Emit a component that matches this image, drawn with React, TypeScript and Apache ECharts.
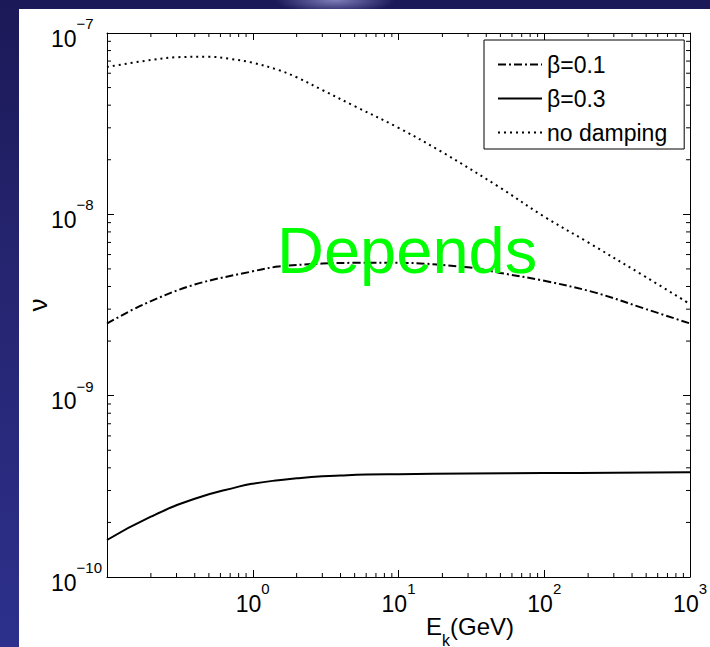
import React, { useEffect, useRef } from "react";
import * as echarts from "echarts";

// beta = 0.1 (dash-dot)
const energyBeta01 = [0.1, 0.18, 0.4, 1, 1.5, 3, 5, 10, 30, 50, 100, 224, 500, 1000];
const nuBeta01 = [2.5e-9, 3.2e-9, 4.1e-9, 4.85e-9, 5.15e-9, 5.35e-9, 5.4e-9, 5.4e-9, 5.1e-9, 4.75e-9, 4.3e-9, 3.7e-9, 3.0e-9, 2.5e-9];

// beta = 0.3 (solid)
const energyBeta03 = [0.1, 0.2, 0.4, 0.8, 1, 1.5, 2, 3, 4, 6, 10, 30, 100, 300, 1000];
const nuBeta03 = [1.6e-10, 2.15e-10, 2.7e-10, 3.15e-10, 3.27e-10, 3.42e-10, 3.5e-10, 3.59e-10, 3.63e-10, 3.67e-10, 3.69e-10, 3.72e-10, 3.74e-10, 3.76e-10, 3.78e-10];

// no damping (dotted)
const energyNoDamp = [0.1, 0.2, 0.3, 0.5, 0.7, 1, 1.5, 2, 3, 5, 10, 20, 50, 100, 200, 500, 1000];
const nuNoDamp = [6.5e-8, 7.1e-8, 7.35e-8, 7.4e-8, 7.2e-8, 6.85e-8, 6.25e-8, 5.7e-8, 4.85e-8, 3.95e-8, 3.0e-8, 2.2e-8, 1.4e-8, 9.7e-9, 7.0e-9, 4.5e-9, 3.2e-9];

const seriesNames = ["β=0.1", "β=0.3", "no damping"];

const xMin = 0.1;
const xMax = 1000;
const yMin = 1e-10;
const yMax = 1e-7;
const xDecades = [0.1, 1, 10, 100];
const yDecades = [1e-10, 1e-9, 1e-8];
const minorMultipliers = [2, 3, 4, 5, 6, 7, 8, 9];

const FONT = "'Liberation Sans', Arial, Helvetica, sans-serif";

function zip(xs: number[], ys: number[]) {
  return xs.map((x, i) => [x, ys[i]]);
}

export default function App() {
  const ref = useRef<HTMLDivElement>(null);

  useEffect(() => {
    if (!ref.current) return;
    const chart = echarts.init(ref.current, null, { renderer: "svg" });

    const xMinor: number[] = [];
    xDecades.forEach((d) => minorMultipliers.forEach((m) => xMinor.push(d * m)));
    const yMinor: number[] = [];
    yDecades.forEach((d) => minorMultipliers.forEach((m) => yMinor.push(d * m)));

    const richTick = {
      b: { fontSize: 23, lineHeight: 34, verticalAlign: "bottom", color: "#000", fontFamily: FONT },
      s: { fontSize: 15, lineHeight: 14, verticalAlign: "top", color: "#000", fontFamily: FONT },
    };

    const expOf = (v: number) => Math.round(Math.log10(v));
    const fmtExp = (e: number) => (e < 0 ? "−" + Math.abs(e) : String(e));

    const axisCommon = {
      axisLine: { show: true, lineStyle: { color: "#000", width: 1 } },
      axisTick: { show: true, inside: true, length: 7, lineStyle: { color: "#000", width: 1 } },
      splitLine: { show: false },
      minorTick: { show: false },
    };

    const minorTickLine = (x1: number, y1: number, x2: number, y2: number) => ({
      type: "line",
      shape: { x1, y1, x2, y2 },
      style: { stroke: "#000", lineWidth: 1 },
    });

    chart.setOption({
      animation: false,
      backgroundColor: "transparent",
      grid: { left: 107, right: 18, top: 33, bottom: 70, containLabel: false },
      legend: {
        data: seriesNames,
        orient: "vertical",
        left: 484,
        top: 40,
        padding: [13, 17, 5, 13],
        itemGap: 11,
        itemWidth: 44,
        itemHeight: 14,
        selectedMode: false,
        backgroundColor: "#fff",
        borderColor: "#000",
        borderWidth: 1,
        borderRadius: 0,
        itemStyle: { color: "transparent", borderWidth: 0, opacity: 0 },
        textStyle: { fontSize: 23, color: "#000", fontFamily: FONT },
      },
      xAxis: [
        {
          type: "log",
          logBase: 10,
          min: xMin,
          max: xMax,
          position: "bottom",
          ...axisCommon,
          axisLabel: {
            margin: 4,
            formatter: (v: number) => {
              const e = expOf(v);
              if (e < 0) return "";
              return `{b|10}{s|${fmtExp(e)}}`;
            },
            rich: richTick,
          },
        },
        {
          type: "log",
          logBase: 10,
          min: xMin,
          max: xMax,
          position: "top",
          ...axisCommon,
          axisLabel: { show: false },
        },
      ],
      yAxis: [
        {
          type: "log",
          logBase: 10,
          min: yMin,
          max: yMax,
          position: "left",
          ...axisCommon,
          name: "ν",
          nameLocation: "middle",
          nameGap: 56,
          nameMoveOverlap: false,
          nameRotate: 90,
          nameTextStyle: { fontSize: 26, color: "#000", fontFamily: FONT },
          axisLabel: {
            align: "left",
            margin: 56,
            formatter: (v: number) => `{b|10}{s|${fmtExp(expOf(v))}}`,
            rich: richTick,
          },
        },
        {
          type: "log",
          logBase: 10,
          min: yMin,
          max: yMax,
          position: "right",
          ...axisCommon,
          axisLabel: { show: false },
        },
      ],
      graphic: [
        {
          type: "text",
          left: 426,
          top: 614,
          style: {
            text: "{a|E}{k|k}{a|(GeV)}",
            fill: "#000",
            rich: {
              a: { fontSize: 24, lineHeight: 26, verticalAlign: "top", fontFamily: FONT, color: "#000" },
              k: { fontSize: 16, lineHeight: 16, padding: [18, 0, 0, 0], verticalAlign: "top", fontFamily: FONT, color: "#000" },
            },
          },
        },
        {
          type: "text",
          x: 277,
          y: 250,
          z: 100,
          style: {
            text: "Depends",
            fontSize: 65,
            fontFamily: FONT,
            fill: "#00ff00",
            verticalAlign: "middle",
          },
        },
      ],
      series: [
        {
          type: "custom",
          silent: true,
          xAxisIndex: 0,
          yAxisIndex: 0,
          data: xMinor.map((v) => [v, yMin]),
          renderItem: (_p: any, api: any) => {
            const v = api.value(0);
            const b = api.coord([v, yMin]);
            const t = api.coord([v, yMax]);
            return {
              type: "group",
              children: [minorTickLine(b[0], b[1], b[0], b[1] - 4), minorTickLine(t[0], t[1], t[0], t[1] + 4)],
            };
          },
        },
        {
          type: "custom",
          silent: true,
          xAxisIndex: 0,
          yAxisIndex: 0,
          data: yMinor.map((v) => [xMin, v]),
          renderItem: (_p: any, api: any) => {
            const v = api.value(1);
            const l = api.coord([xMin, v]);
            const r = api.coord([xMax, v]);
            return {
              type: "group",
              children: [minorTickLine(l[0], l[1], l[0] + 4, l[1]), minorTickLine(r[0], r[1], r[0] - 4, r[1])],
            };
          },
        },
        {
          type: "line",
          name: seriesNames[0],
          data: zip(energyBeta01, nuBeta01),
          symbol: "none",
          smooth: 0.35,
          itemStyle: { color: "#000" },
          lineStyle: { color: "#000", width: 2, type: [8, 3, 2, 3] },
        },
        {
          type: "line",
          name: seriesNames[1],
          data: zip(energyBeta03, nuBeta03),
          symbol: "none",
          smooth: 0.5,
          itemStyle: { color: "#000" },
          lineStyle: { color: "#000", width: 2, type: "solid" },
        },
        {
          type: "line",
          name: seriesNames[2],
          data: zip(energyNoDamp, nuNoDamp),
          symbol: "none",
          smooth: 0.35,
          itemStyle: { color: "#000" },
          lineStyle: { color: "#000", width: 2, type: [2, 4] },
        },
      ],
    });

    return () => chart.dispose();
  }, []);

  return (
    <div
      style={{
        position: "fixed",
        left: 0,
        top: 0,
        width: 710,
        height: 647,
        overflow: "hidden",
        background:
          "radial-gradient(ellipse 60px 14px at 335px 0px, rgba(170,170,230,0.7), rgba(170,170,230,0) 100%), linear-gradient(180deg, #1b1957 0%, #25246f 40%, #2d308c 100%)",
      }}
    >
      <div style={{ position: "absolute", left: 19, top: 9, right: 0, bottom: 0, background: "#fff" }} />
      <div ref={ref} style={{ position: "absolute", left: 0, top: 0, width: 710, height: 647 }} />
    </div>
  );
}
